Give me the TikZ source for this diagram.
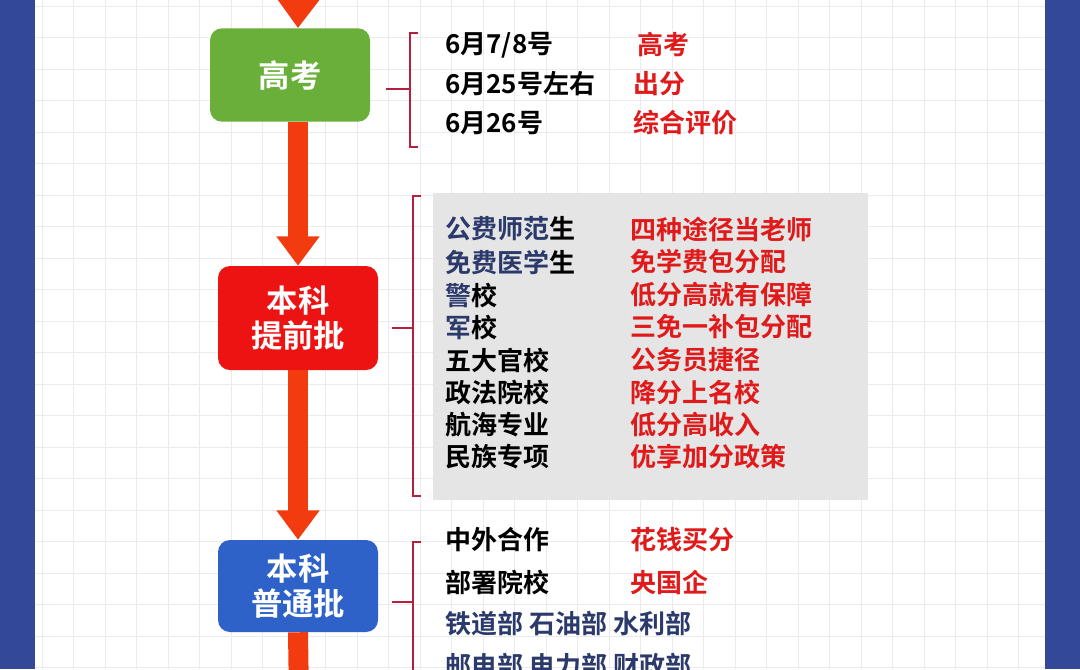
\documentclass[tikz,border=0pt]{standalone}
\usepackage{fontspec}
\newfontfamily\cjk{Noto Sans CJK SC Bold}
\newfontfamily\cjkb{Noto Sans CJK SC Bold}
\usetikzlibrary{arrows.meta}
\definecolor{frameblue}{HTML}{34489A}
\definecolor{gridc}{HTML}{EAEAF0}
\definecolor{arr}{HTML}{F23C10}
\definecolor{gk}{HTML}{6AAF3A}
\definecolor{tqred}{HTML}{EE1313}
\definecolor{ptblue}{HTML}{2E62C8}
\definecolor{brk}{HTML}{B5203E}
\definecolor{redt}{HTML}{E01A1A}
\definecolor{navy}{HTML}{2B3A6B}
\begin{document}
\begin{tikzpicture}[x=0.75pt,y=-0.75pt,
  stage/.style={rounded corners=9pt,minimum width=120pt,text=white,font=\cjkb\fontsize{23.5}{28}\selectfont,align=center},
  flow/.style={arr,line width=15pt,-{Triangle[width=31pt,length=22pt]}},
  brace/.style={brk,line width=1.6pt},
  lt/.style={anchor=west,inner sep=0pt,font=\cjk\fontsize{19.5}{21}\selectfont},
  rt/.style={anchor=west,inner sep=0pt,text=redt,font=\cjkb\fontsize{19.5}{21}\selectfont}]
\useasboundingbox (0,0) rectangle (1080,669);
\clip (0,0) rectangle (1080,669);
\fill[white] (0,0) rectangle (1080,669);
\foreach \i in {0,...,34} {\draw[gridc,line width=0.7pt] (42+31.5*\i,0) -- (42+31.5*\i,669);}
\foreach \j in {0,...,21} {\draw[gridc,line width=0.7pt] (35,6+31.5*\j) -- (1045,6+31.5*\j);}
\fill[frameblue] (0,0) rectangle (35,669);
\fill[frameblue] (1045,0) rectangle (1080,669);
% panel
\fill[black!10] (433,193) rectangle (868,500);
% stages
\node[stage,fill=gk,minimum height=70pt] (gk) at (290,75) {高考};
\node[stage,fill=tqred,minimum height=78pt] (tq) at (298,318) {本科\\[-2pt]提前批};
\node[stage,fill=ptblue,minimum height=69pt] (pt) at (298,586) {本科\\[-2pt]普通批};
\coordinate (top) at (299,-40);
\coordinate (bot) at (299,700);
\draw[flow] (top) -- (tq.north |- gk.north);
\draw[flow] (tq.north |- gk.south) -- (tq.north);
\draw[flow] (tq.south) -- (pt.north);
\draw[arr,line width=15pt] (pt.south) -- (bot);
% braces
\coordinate (b1) at (386,89);
\draw[brace] (b1) -- (410,89);
\draw[brace] (418,33) -- (410,33) -- (410,147) -- (418,147);
\coordinate (b2) at (392,328);
\draw[brace] (b2) -- (413,328);
\draw[brace] (421,196) -- (413,196) -- (413,496) -- (421,496);
\coordinate (b3) at (392,602);
\draw[brace] (b3) -- (413,602);
\draw[brace] (421,542) -- (413,542) -- (413,700);
% group 1
\node[lt] (a1) at (445,45) {6月7/8号};   \node[rt] (r1) at (637,45) {高考};
\node[lt] (a2) at (445,84) {6月25号左右}; \node[rt] (r2) at (633,84) {出分};
\node[lt] (a3) at (445,123) {6月26号};   \node[rt] (r3) at (633,123) {综合评价};
% group 2
\node[lt] (c1) at (445,229) {\textcolor{navy}{公费师范}生}; \node[rt] (d1) at (630,229) {四种途径当老师};
\node[lt] (c2) at (445,262) {\textcolor{navy}{免费医学}生}; \node[rt] (d2) at (630,262) {免学费包分配};
\node[lt] (c3) at (445,295) {\textcolor{navy}{警}校}; \node[rt] (d3) at (630,295) {低分高就有保障};
\node[lt] (c4) at (445,327) {\textcolor{navy}{军}校}; \node[rt] (d4) at (630,327) {三免一补包分配};
\node[lt] (c5) at (445,360) {五大官校}; \node[rt] (d5) at (630,360) {公务员捷径};
\node[lt] (c6) at (445,392) {政法院校}; \node[rt] (d6) at (630,392) {降分上名校};
\node[lt] (c7) at (445,425) {航海专业}; \node[rt] (d7) at (630,425) {低分高收入};
\node[lt] (c8) at (445,457) {民族专项}; \node[rt] (d8) at (630,457) {优享加分政策};
% group 3
\node[lt] (e1) at (445,540) {中外合作}; \node[rt] (f1) at (630,540) {花钱买分};
\node[lt] (e2) at (445,582) {部署院校}; \node[rt] (f2) at (630,582) {央国企};
\node[lt,text=navy] (e3) at (445,624) {铁道部 石油部 水利部};
\node[lt,text=navy] (e4) at (445,666) {邮电部 电力部 财政部};
\end{tikzpicture}
\end{document}
